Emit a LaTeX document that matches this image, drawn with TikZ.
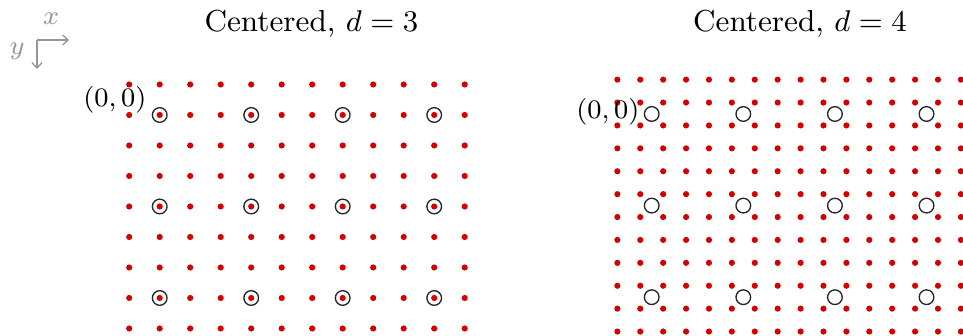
\documentclass[tikz,border=0pt]{standalone}
\usetikzlibrary{arrows.meta}
\definecolor{dotred}{RGB}{212,0,0}
\definecolor{axgray}{RGB}{150,150,150}
\begin{document}
\begin{tikzpicture}[x=0.3pt,y=-0.3pt,
  dot/.style={circle,fill=dotred,inner sep=0pt,minimum size=1.85pt},
  ring/.style={circle,draw=black!85,line width=0.4pt,inner sep=0pt,minimum size=4.4pt},
  ttl/.style={font=\fontsize{9.1}{11}\selectfont,inner sep=0pt},
  lbl/.style={font=\fontsize{7.6}{9}\selectfont,inner sep=0pt},
  axlbl/.style={font=\fontsize{7.6}{9}\selectfont,inner sep=0pt,text=axgray},
  axarrow/.style={draw=axgray,line width=0.4pt,-{Straight Barb[length=1.6pt,width=3pt]}}]
\useasboundingbox (0,0) rectangle (963,336);
\clip (0,0) rectangle (963,336);
% axes icon
\coordinate (corner) at (37,40);
\coordinate (xend) at (69,40);
\coordinate (yend) at (37,69);
\draw[axarrow] (corner) -- (xend);
\draw[axarrow] (corner) -- (yend);
\node[axlbl] (xl) at (51,19) {$x$};
\node[axlbl] (yl) at (17,51) {$y$};
% titles
\node[ttl] (t1) at (311.5,24) {Centered, $d=3$};
\node[ttl] (t2) at (800,24) {Centered, $d=4$};
% left grid
\foreach \i in {-1,...,10}{
  \foreach \j in {-1,...,7}{
    \node[dot] (l-\i-\j) at ({159.7+30.5*\i},{115+30.5*\j}) {};
  }
}
\foreach \i in {0,3,6,9}{
  \foreach \j in {0,3,6}{
    \node[ring] (lr-\i-\j) at ({159.7+30.5*\i},{115+30.5*\j}) {};
  }
}
\node[lbl,anchor=east] (o1) at (147,100) {$(0,0)$};
% right grid
\foreach \k in {0,...,15}{
  \foreach \m in {0,...,11}{
    \node[dot] (r-\k-\m) at ({651.7+22.9*(\k-1.5)},{114+22.9*(\m-1.5)}) {};
  }
}
\foreach \i in {0,4,8,12}{
  \foreach \j in {0,4,8}{
    \node[ring] (rr-\i-\j) at ({651.7+22.9*\i},{114+22.9*\j}) {};
  }
}
\node[lbl,anchor=east] (o2) at (640,111.7) {$(0,0)$};
\end{tikzpicture}
\end{document}
